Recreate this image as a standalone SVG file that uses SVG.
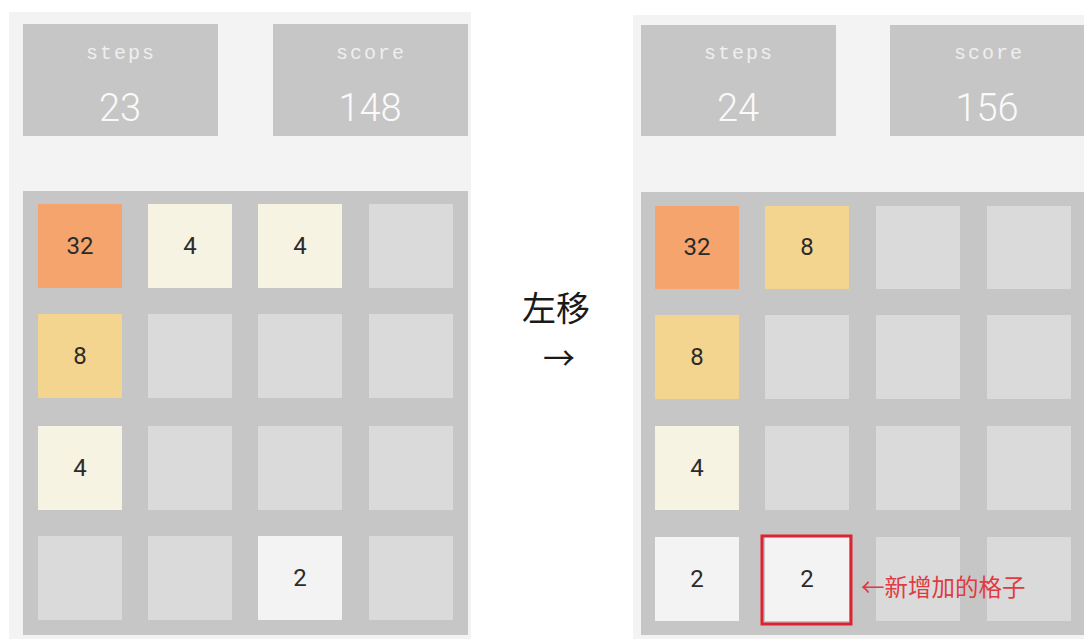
<svg xmlns="http://www.w3.org/2000/svg" width="1084" height="639" viewBox="0 0 1084 639">
<style>
.panel{fill:#f3f3f3}
.box{fill:#c6c6c6}
.lbl{font-family:"Liberation Mono","DejaVu Sans Mono",monospace;font-size:20px;fill:#efefef;text-anchor:middle;letter-spacing:2px}
.num{font-family:Roboto,"Liberation Sans",sans-serif;font-weight:300;font-size:38px;fill:#fafafa;text-anchor:middle}
.e{fill:#dadada}
.t2{fill:#f3f3f3}
.t4{fill:#f6f3e3}
.t8{fill:#f4d590}
.t32{fill:#f4a46c}
.tt{font-family:Roboto,"Liberation Sans",sans-serif;font-size:24px;fill:#2b2b2b;text-anchor:middle}
.cjk{font-family:"Noto Sans CJK SC",sans-serif}
</style>
<rect width="1084" height="639" fill="#ffffff"/>

<g id="left-panel">
<rect class="panel" x="9" y="12" width="462" height="627"/>
<g id="left-steps"><rect class="box" x="23" y="24" width="195" height="112"/><text class="lbl" x="121" y="59">steps</text><text class="num" x="120" y="121">23</text></g>
<g id="left-score"><rect class="box" x="273" y="24" width="195" height="112"/><text class="lbl" x="371" y="59">score</text><text class="num" x="370" y="121">148</text></g>
<rect class="box" x="23" y="191" width="445" height="444"/>
<g id="left-tiles">
<rect class="t32" x="38" y="204" width="84" height="84"/><text class="tt" x="80" y="254">32</text>
<rect class="t4" x="148" y="204" width="84" height="84"/><text class="tt" x="190" y="254">4</text>
<rect class="t4" x="258" y="204" width="84" height="84"/><text class="tt" x="300" y="254">4</text>
<rect class="e" x="369" y="204" width="84" height="84"/>
<rect class="t8" x="38" y="314" width="84" height="84"/><text class="tt" x="80" y="364">8</text>
<rect class="e" x="148" y="314" width="84" height="84"/>
<rect class="e" x="258" y="314" width="84" height="84"/>
<rect class="e" x="369" y="314" width="84" height="84"/>
<rect class="t4" x="38" y="426" width="84" height="84"/><text class="tt" x="80" y="476">4</text>
<rect class="e" x="148" y="426" width="84" height="84"/>
<rect class="e" x="258" y="426" width="84" height="84"/>
<rect class="e" x="369" y="426" width="84" height="84"/>
<rect class="e" x="38" y="536" width="84" height="84"/>
<rect class="e" x="148" y="536" width="84" height="84"/>
<rect class="t2" x="258" y="536" width="84" height="84"/><text class="tt" x="300" y="586">2</text>
<rect class="e" x="369" y="536" width="84" height="84"/>
</g>
</g>

<g id="middle">
<text class="cjk" x="556" y="321" font-size="34" fill="#1a1a1a" text-anchor="middle">左移</text>
<text class="cjk" x="559" y="370" font-size="32" fill="#1a1a1a" text-anchor="middle">→</text>
</g>

<g id="right-panel">
<rect class="panel" x="633" y="15" width="451" height="624"/>
<g id="right-steps"><rect class="box" x="641" y="25" width="195" height="111"/><text class="lbl" x="739" y="59">steps</text><text class="num" x="738" y="121">24</text></g>
<g id="right-score"><rect class="box" x="890" y="25" width="195" height="111"/><text class="lbl" x="989" y="59">score</text><text class="num" x="987" y="121">156</text></g>
<rect class="box" x="641" y="192" width="443" height="443"/>
<g id="right-tiles">
<rect class="t32" x="655" y="206" width="84" height="83"/><text class="tt" x="697" y="255">32</text>
<rect class="t8" x="765" y="206" width="84" height="83"/><text class="tt" x="807" y="255">8</text>
<rect class="e" x="876" y="206" width="84" height="83"/>
<rect class="e" x="987" y="206" width="84" height="83"/>
<rect class="t8" x="655" y="315" width="84" height="84"/><text class="tt" x="697" y="365">8</text>
<rect class="e" x="765" y="315" width="84" height="84"/>
<rect class="e" x="876" y="315" width="84" height="84"/>
<rect class="e" x="987" y="315" width="84" height="84"/>
<rect class="t4" x="655" y="426" width="84" height="84"/><text class="tt" x="697" y="476">4</text>
<rect class="e" x="765" y="426" width="84" height="84"/>
<rect class="e" x="876" y="426" width="84" height="84"/>
<rect class="e" x="987" y="426" width="84" height="84"/>
<rect class="t2" x="655" y="537" width="84" height="84"/><text class="tt" x="697" y="587">2</text>
<rect class="t2" x="765" y="537" width="84" height="84"/><text class="tt" x="807" y="587">2</text>
<rect class="e" x="876" y="537" width="84" height="84"/>
<rect class="e" x="987" y="537" width="84" height="84"/>
</g>
<g id="highlight">
<rect x="762" y="536" width="89" height="88" fill="none" stroke="#dc2430" stroke-width="3"/>
<text class="cjk" x="861" y="596" font-size="23.5" fill="#e03a42">←新增加的格子</text>
</g>
</g>
</svg>
